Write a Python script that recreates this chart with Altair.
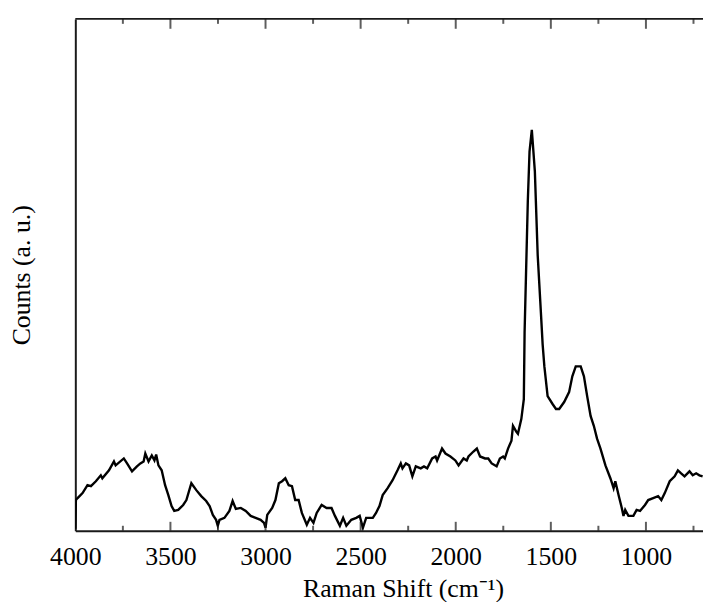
import altair as alt
import pandas as pd

# Raman spectrum (wavenumber in cm^-1, counts in arbitrary units)
wavenumber = [
    4000, 3997, 3988, 3962, 3936, 3918, 3892, 3866, 3858, 3823, 3797, 3788, 3745, 3728,
    3702, 3676, 3658, 3641, 3632, 3615, 3598, 3584, 3575, 3563, 3546, 3528, 3511, 3494,
    3480, 3459, 3433, 3416, 3390, 3364, 3338, 3312, 3294, 3277, 3260, 3251, 3242, 3216,
    3190, 3173, 3156, 3130, 3104, 3078, 3052, 3026, 3008, 3000, 2991, 2965, 2948, 2930,
    2913, 2896, 2878, 2861, 2844, 2826, 2809, 2783, 2766, 2748, 2731, 2705, 2679, 2653,
    2635, 2609, 2592, 2575, 2549, 2523, 2505, 2488, 2471, 2436, 2419, 2401, 2384, 2358,
    2332, 2306, 2289, 2280, 2262, 2245, 2228, 2210, 2184, 2167, 2150, 2124, 2106, 2098,
    2072, 2054, 2028, 2002, 1985, 1959, 1942, 1933, 1907, 1889, 1872, 1846, 1829, 1811,
    1785, 1768, 1751, 1742, 1725, 1707, 1699, 1681, 1673, 1655, 1642, 1638, 1630, 1621,
    1612, 1600, 1584, 1569, 1551, 1543, 1534, 1517, 1491, 1473, 1456, 1430, 1404, 1387,
    1369, 1343, 1326, 1309, 1291, 1274, 1257, 1239, 1213, 1187, 1170, 1161, 1144, 1127,
    1118, 1109, 1092, 1066, 1049, 1031, 1005, 988, 962, 936, 919, 901, 875, 849,
    832, 815, 797, 771, 754, 736, 719, 702,
]
counts = [
    2, 31, 33, 38, 46, 45, 50, 56, 53, 61, 70, 66, 73, 68,
    60, 65, 68, 70, 78, 70, 76, 71, 77, 66, 61, 46, 36, 25,
    20, 21, 26, 31, 48, 41, 35, 30, 25, 16, 11, 5, 11, 13,
    20, 30, 22, 23, 20, 15, 13, 11, 8, 3, 16, 23, 31, 48,
    50, 53, 46, 45, 31, 31, 18, 6, 13, 8, 18, 26, 23, 23,
    15, 5, 13, 5, 11, 13, 15, 3, 13, 13, 18, 25, 36, 43,
    51, 61, 68, 63, 68, 66, 55, 65, 63, 65, 63, 73, 75, 71,
    83, 78, 75, 71, 66, 73, 71, 75, 80, 83, 75, 73, 73, 68,
    65, 73, 75, 73, 83, 91, 106, 100, 98, 113, 133, 200, 263, 333,
    383, 405, 363, 278, 216, 188, 166, 136, 128, 123, 123, 130, 140, 156,
    166, 166, 156, 136, 116, 106, 93, 83, 66, 53, 43, 50, 36, 23,
    15, 21, 15, 15, 21, 20, 26, 31, 33, 35, 31, 38, 50, 55,
    61, 58, 55, 60, 56, 58, 56, 55,
]

major_ticks = [4000, 3500, 3000, 2500, 2000, 1500, 1000]
minor_ticks = [3750, 3250, 2750, 2250, 1750, 1250, 750]

X_MIN, X_MAX = 700, 4000
W, H = 634, 517
FONT = "'Liberation Serif', 'Times New Roman', Times, serif"
AXIS_COLOR = "#1a1a1a"
X_TITLE = "Raman Shift (cm⁻¹)"

df = pd.DataFrame({"wn": wavenumber, "counts": counts})
df_major = pd.DataFrame({"tick": major_ticks[1:]})
df_minor = pd.DataFrame({"tick": minor_ticks})
df_edge = pd.DataFrame({"start": [X_MAX], "end": [X_MIN]})
xscale = alt.Scale(domain=[X_MIN, X_MAX], reverse=True, nice=False, zero=False)

line = alt.Chart(df).mark_line(color="black", strokeWidth=2.4, clip=True).encode(
    x=alt.X(
        "wn:Q",
        scale=xscale,
        axis=alt.Axis(
            values=major_ticks, format="d", title=X_TITLE,
            titleFont=FONT, titleFontSize=26, titleFontWeight="normal", titleColor="black",
            titleX=331, titleY=66, titleAlign="center", titleBaseline="alphabetic",
            labelFont=FONT, labelFontSize=26, labelColor="black",
            labelBaseline="alphabetic", labelPadding=34, labelFlush=False, labelOverlap=False,
            ticks=False, tickSize=0, grid=False, domainColor=AXIS_COLOR, domainWidth=2,
        ),
    ),
    y=alt.Y(
        "counts:Q",
        scale=alt.Scale(domain=[0, 517], nice=False),
        axis=alt.Axis(
            title="Counts (a. u.)",
            titleFont=FONT, titleFontSize=26, titleFontWeight="normal", titleColor="black",
            titleAngle=270, titleX=-46, titleY=H / 2, titleAlign="center", titleBaseline="alphabetic",
            labels=False, ticks=False, grid=False, domainColor=AXIS_COLOR, domainWidth=2,
        ),
    ),
)


def tick_layer(frame, length, ypos):
    return alt.Chart(frame).mark_tick(color=AXIS_COLOR, size=length, thickness=2).encode(
        x=alt.X("tick:Q", scale=xscale, title=X_TITLE), y=alt.value(ypos)
    )


bottom_major = tick_layer(df_major, 9, H - 4.5)
bottom_minor = tick_layer(df_minor, 5, H - 2.5)
top_major = tick_layer(df_major, 10, 5)
top_minor = tick_layer(df_minor, 5, 2.5)

# top frame edge, spanning the full x domain through the shared scale
top_border = alt.Chart(df_edge).mark_rule(color=AXIS_COLOR, strokeWidth=2).encode(
    x=alt.X("start:Q", scale=xscale, title=X_TITLE),
    x2="end:Q",
    y=alt.value(0),
)

chart = (
    alt.layer(line, bottom_major, bottom_minor, top_major, top_minor, top_border)
    .properties(
        width=W, height=H,
        autosize=alt.AutoSizeParams(type="none"),
        padding={"left": 68, "top": 8, "right": 0, "bottom": 69},
        background="white",
    )
    .configure_view(stroke=None)
)

chart.save("out.html", embed_options={"renderer": "svg", "actions": False})
